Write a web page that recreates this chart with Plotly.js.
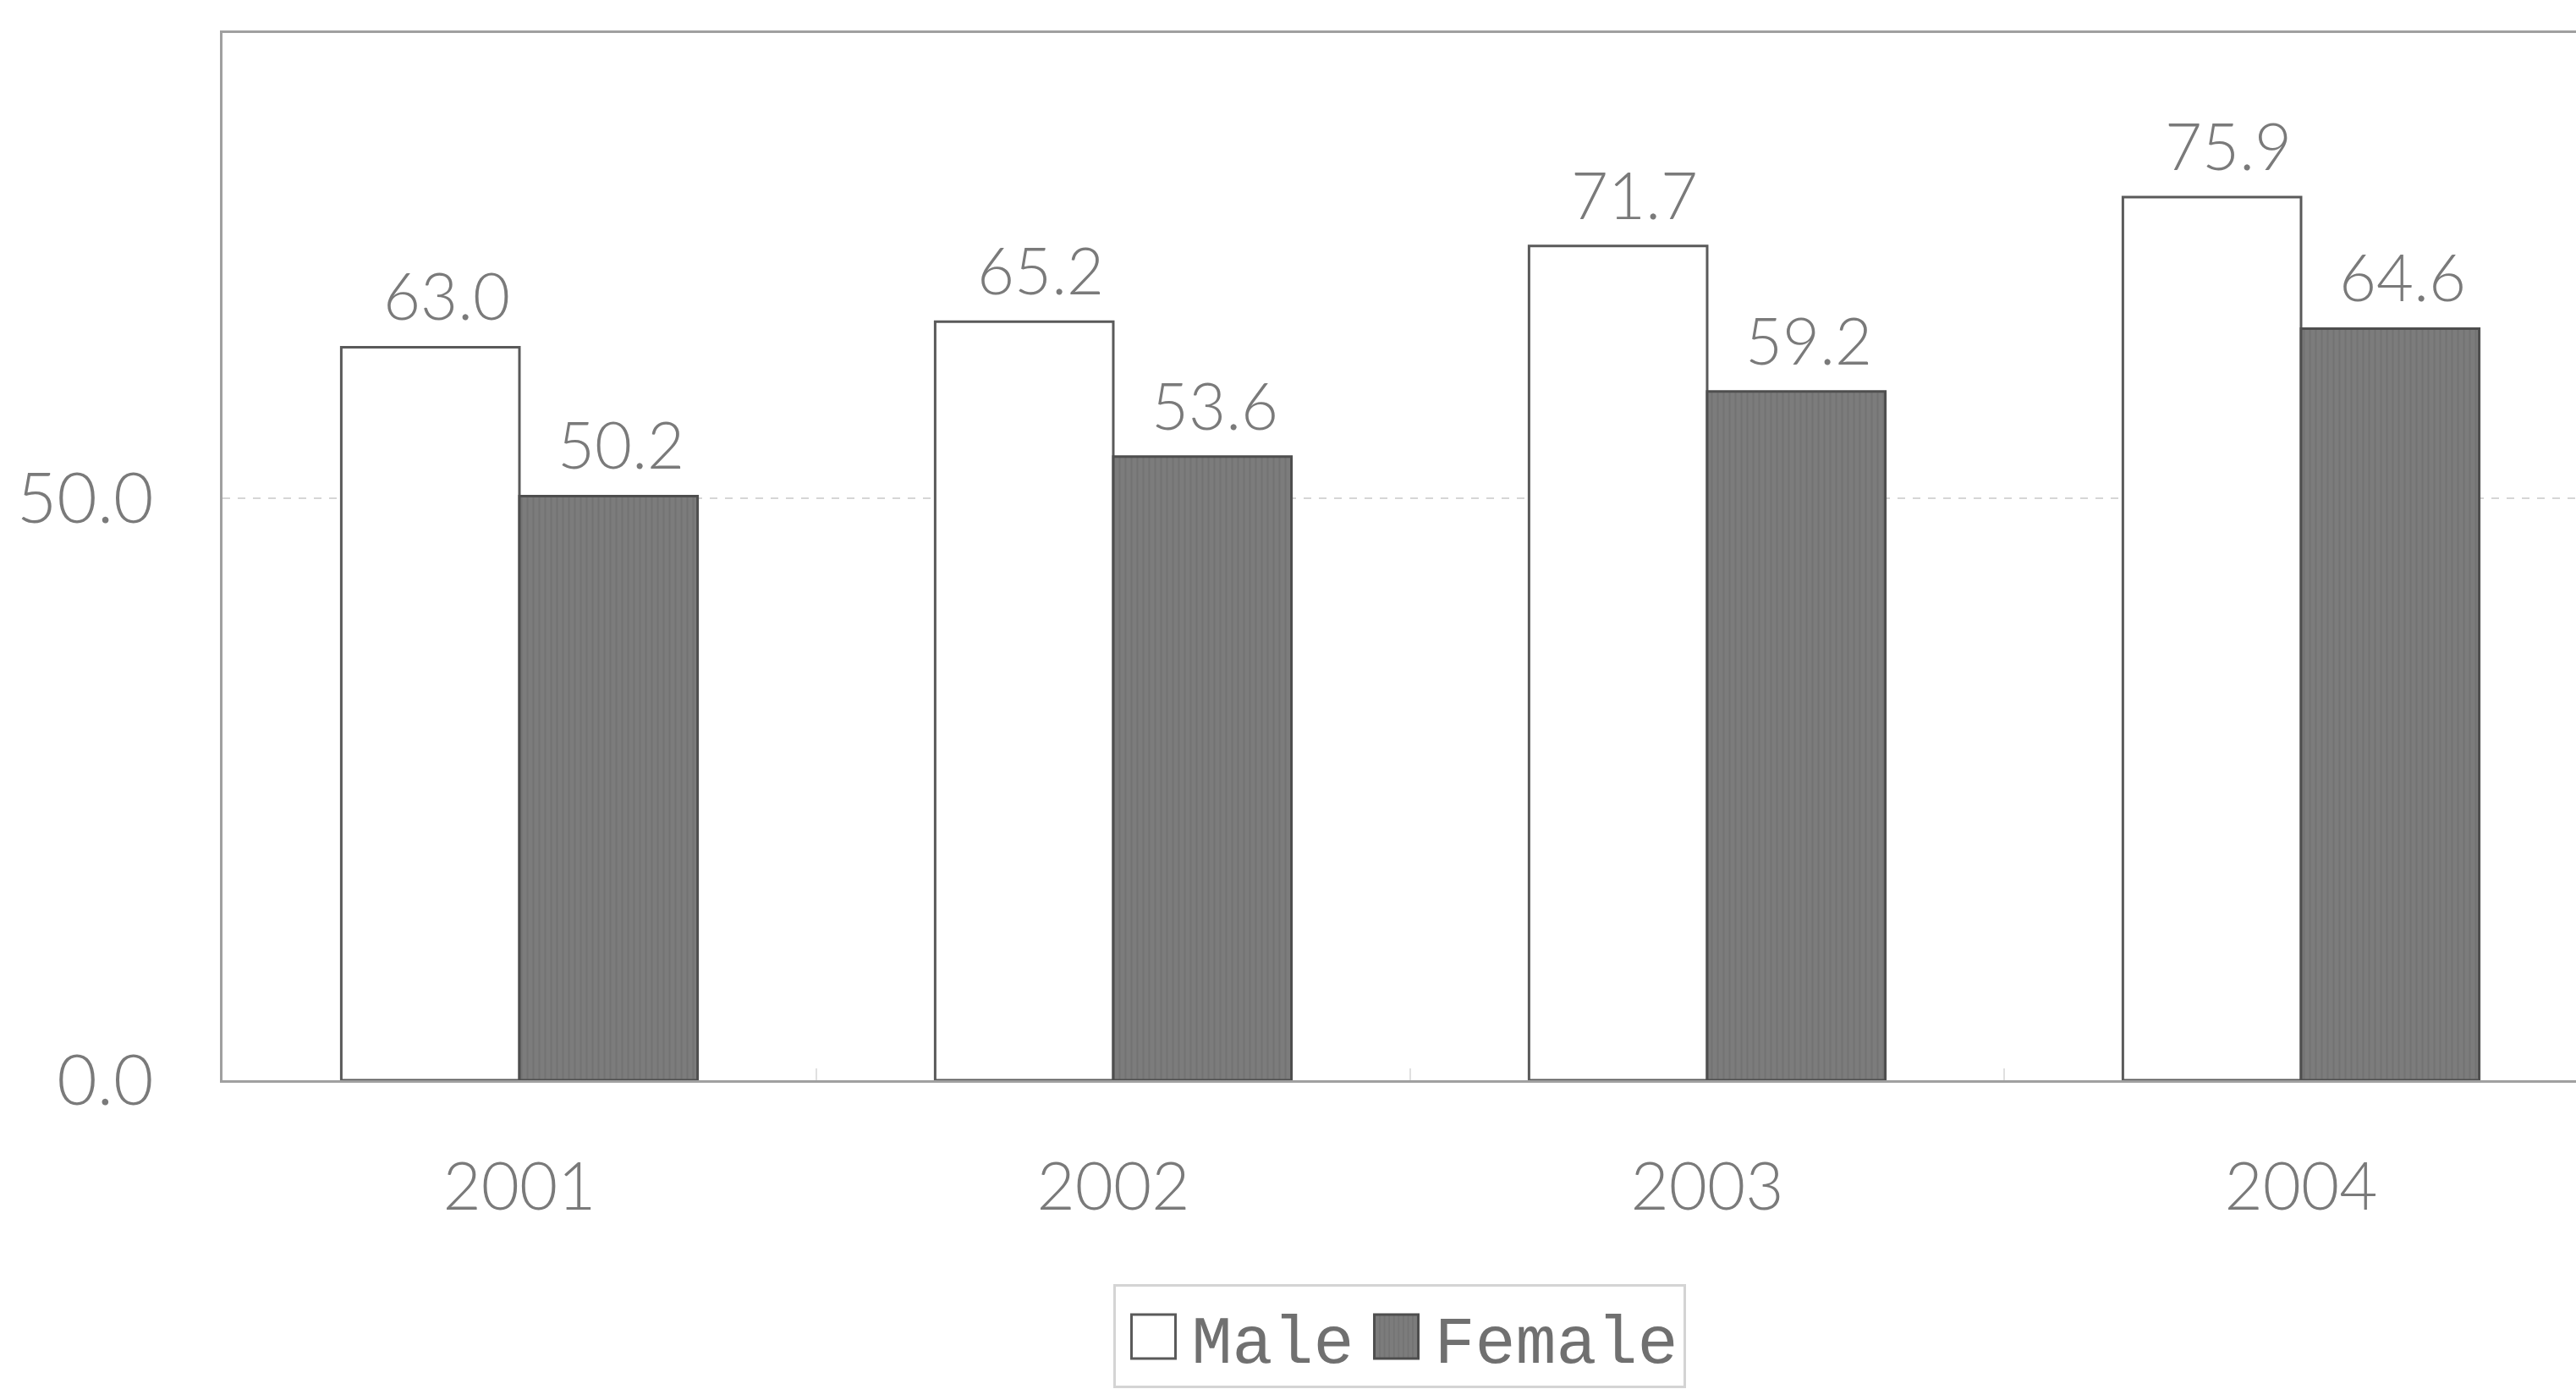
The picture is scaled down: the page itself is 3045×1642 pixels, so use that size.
<!DOCTYPE html>
<html>
<head>
<meta charset="utf-8">
<script src="https://cdn.plot.ly/plotly-3.0.1.min.js"></script>
<style>html,body{margin:0;padding:0;background:#fff;}#chart{width:3045px;height:1642px;}</style>
</head>
<body>
<div id="chart"></div>
<script>
const years = ['2001', '2002', '2003', '2004'];
const male = [63.0, 65.2, 71.7, 75.9];
const female = [50.2, 53.6, 59.2, 64.6];
const seriesNames = ['Male', 'Female'];

const labelFont = {family: 'Lato, "DejaVu Sans", sans-serif', size: 76, color: '#7a7a7a', weight: 300};

const traces = [
  {
    type: 'bar', name: seriesNames[0], x: years, y: male,
    marker: {color: '#ffffff', line: {color: '#5a5a5a', width: 3}},
    hoverinfo: 'skip'
  },
  {
    type: 'bar', name: seriesNames[1], x: years, y: female,
    marker: {color: '#7c7c7c', line: {color: '#4e4e4e', width: 3},
             pattern: {shape: '|', fillmode: 'overlay', fgcolor: '#6a6a6a', size: 7, solidity: 0.3}},
    hoverinfo: 'skip'
  }
];

const annotations = [];
years.forEach((yr, i) => {
  annotations.push({x: i, y: male[i], xref: 'x', yref: 'y', text: male[i].toFixed(1),
    showarrow: false, xshift: -86, yshift: 14, yanchor: 'bottom', font: labelFont});
  annotations.push({x: i, y: female[i], xref: 'x', yref: 'y', text: female[i].toFixed(1),
    showarrow: false, xshift: 120, yshift: 14, yanchor: 'bottom', font: labelFont});
});

const layout = {
  width: 3045, height: 1642,
  margin: {l: 263, r: 0, t: 39, b: 358, pad: 0},
  paper_bgcolor: '#ffffff', plot_bgcolor: '#ffffff',
  barmode: 'group', bargap: 0.40, bargroupgap: 0,
  showlegend: true,
  legend: {
    orientation: 'h', x: 0.5, xanchor: 'center', y: -0.195, yanchor: 'top',
    bordercolor: '#d4d4d4', borderwidth: 3, bgcolor: '#ffffff',
    font: {family: '"Liberation Mono", "DejaVu Sans Mono", monospace', size: 80, color: '#707070'},
    itemwidth: 80, traceorder: 'normal', itemclick: false, itemdoubleclick: false
  },
  xaxis: {
    type: 'category', range: [-0.5, 3.463],
    showline: true, mirror: true, linecolor: '#a0a0a0', linewidth: 3,
    showgrid: false, zeroline: false,
    ticks: 'inside', tickson: 'boundaries', ticklen: 14, tickcolor: '#e0e0e0', tickwidth: 2,
    ticklabelstandoff: 56,
    tickfont: {family: 'Lato, "DejaVu Sans", sans-serif', size: 78, color: '#7a7a7a', weight: 300}
  },
  yaxis: {
    range: [0, 90], tickvals: [0, 50], tickformat: '.1f',
    showline: true, linecolor: '#a0a0a0', linewidth: 3,
    showgrid: true, gridcolor: '#d6d6d6', gridwidth: 2, griddash: 'dash',
    zeroline: false, ticks: '', ticklabelstandoff: 62,
    tickfont: {family: 'Lato, "DejaVu Sans", sans-serif', size: 82, color: '#7a7a7a', weight: 300}
  },
  annotations: annotations
};

Plotly.newPlot('chart', traces, layout, {staticPlot: true, displayModeBar: false}).then(() => {
  document.querySelectorAll('.legend .legendpoints path').forEach(p => {
    p.setAttribute('d', 'M26,26H-26V-26H26Z');
  });
});
</script>
</body>
</html>
